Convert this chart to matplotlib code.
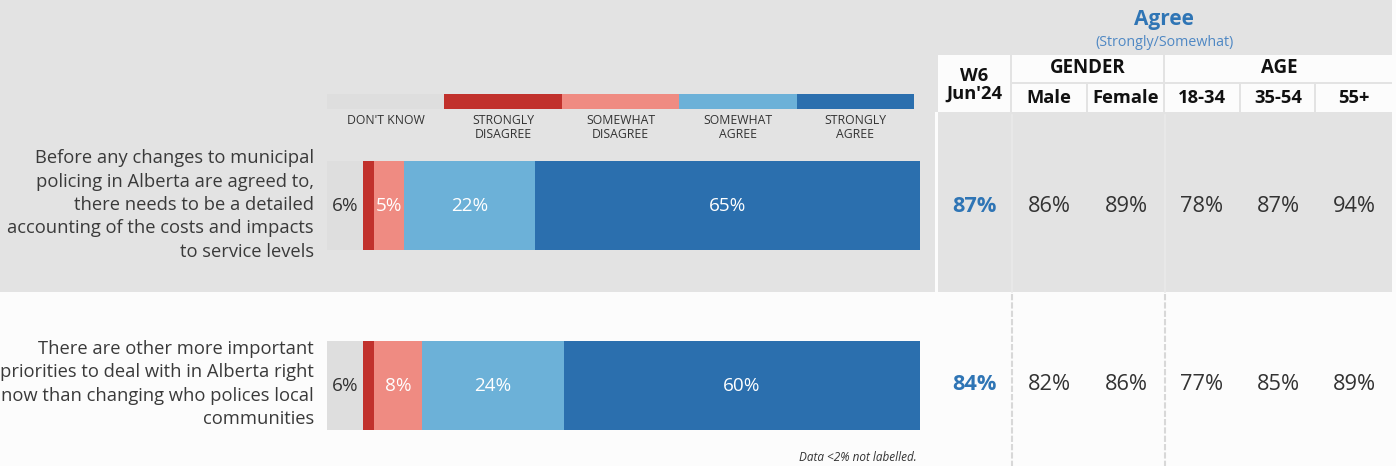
import matplotlib.pyplot as plt
from matplotlib.patches import Rectangle
import numpy as np

plt.rcParams["font.family"] = ["Open Sans", "DejaVu Sans"]

# data
statements = [
    "Before any changes to municipal\npolicing in Alberta are agreed to,\nthere needs to be a detailed\naccounting of the costs and impacts\nto service levels",
    "There are other more important\npriorities to deal with in Alberta right\nnow than changing who polices local\ncommunities",
]
categories = ["DON'T KNOW", "STRONGLY\nDISAGREE", "SOMEWHAT\nDISAGREE", "SOMEWHAT\nAGREE", "STRONGLY\nAGREE"]
dont_know = [6, 6]
strongly_disagree = [2, 2]
somewhat_disagree = [5, 8]
somewhat_agree = [22, 24]
strongly_agree = [65, 60]

table_cols = ["W6\nJun'24", "Male", "Female", "18-34", "35-54", "55+"]
agree_total = ["87%", "84%"]
agree_male = ["86%", "82%"]
agree_female = ["89%", "86%"]
agree_18_34 = ["78%", "77%"]
agree_35_54 = ["87%", "85%"]
agree_55 = ["94%", "89%"]

colors = ["#dedede", "#c1312c", "#ef8b82", "#6cb1d8", "#2b6fae"]
label_colors = ["#333333", "white", "white", "white", "white"]
blue = "#2f75b5"
W, H = 1396, 466


def fx(x):
    return x / W


def fy(y):
    return 1 - y / H


def rect(fig, x0, y0, x1, y1, color, z=0):
    fig.add_artist(Rectangle((fx(x0), fy(y1)), fx(x1) - fx(x0), fy(y0) - fy(y1),
                             transform=fig.transFigure, color=color, lw=0, zorder=z))


fig = plt.figure(figsize=(W / 100, H / 100), dpi=100)
fig.patch.set_facecolor("#fcfcfc")

# backgrounds
rect(fig, 0, 0, W, 292, "#e3e3e3", z=-5)
rect(fig, 935, 112, 938, H, "#fcfcfc", z=-4)
rect(fig, 1392, 0, W, H, "#fcfcfc", z=-4)
# header cells
rect(fig, 938, 55, 1010, 112, "#fcfcfc", z=-3)
rect(fig, 1012, 55, 1163, 82, "#fcfcfc", z=-3)
rect(fig, 1165, 55, 1392, 82, "#fcfcfc", z=-3)
sub_edges = [(1012, 1086), (1088, 1163), (1165, 1239), (1241, 1314), (1316, 1392)]
for a, b in sub_edges:
    rect(fig, a, 84, b, 112, "#fcfcfc", z=-3)
# row separators in table
for xs in [1012, 1165]:
    fig.add_artist(plt.Line2D([fx(xs), fx(xs)], [fy(115), fy(292)], transform=fig.transFigure,
                              color="#eaeaea", lw=1.2, zorder=-2))
    fig.add_artist(plt.Line2D([fx(xs), fx(xs)], [fy(294), fy(H)], transform=fig.transFigure,
                              color="#d8d8d8", lw=1.5, ls=(0, (3, 1)), zorder=-2))

# bar axes
ax = fig.add_axes([fx(327), fy(457.5), fx(920) - fx(327), (457.5 - 70.5) / H])
ax.set_xlim(0, 100)
ax.set_ylim(1.4, -0.75)
ax.axis("off")

series = [dont_know, strongly_disagree, somewhat_disagree, somewhat_agree, strongly_agree]
y = np.arange(len(statements))
left = np.zeros(len(statements))
for vals, c, lc in zip(series, colors, label_colors):
    vals = np.array(vals, dtype=float)
    ax.barh(y, vals, left=left, height=89 / 180, color=c, lw=0)
    for yi, v, l in zip(y, vals, left):
        if v > 2:
            ax.text(l + v / 2, yi, f"{int(v)}%", ha="center", va="center",
                    color=lc, fontsize=13.6)
    left += vals

# legend strip
leg_y = (101.5 - 205.5) / 180
for i, (cat, c) in enumerate(zip(categories, colors)):
    ax.barh(leg_y, 19.8, left=i * 19.8, height=15 / 180, color=c, lw=0)
    ax.text(i * 19.8 + 9.9, (114 - 205.5) / 180, cat, ha="center", va="top",
            fontsize=8.8, color="#333333", linespacing=1.05)

ax.text(99.4, (457 - 205.5) / 180, "Data <2% not labelled.", ha="right", va="center",
        fontsize=8.5, style="italic", color="#333333")

# statements
for yi, s in zip([205, 384], statements):
    fig.text(fx(314), fy(yi), s, ha="right", va="center", fontsize=13.2,
             color="#3a3a3a", linespacing=1.38)

# header
fig.text(fx(1164), fy(19), "Agree", ha="center", va="center", fontsize=15,
         fontweight="bold", color=blue)
fig.text(fx(1164), fy(42), "(Strongly/Somewhat)", ha="center", va="center",
         fontsize=10.3, color="#4f88c4")
fig.text(fx(1088), fy(68), "GENDER", ha="center", va="center", fontsize=13.5,
         fontweight="bold", color="#111111")
fig.text(fx(1279), fy(68), "AGE", ha="center", va="center", fontsize=13.5,
         fontweight="bold", color="#111111")

col_x = [974, 1049, 1126, 1202, 1278, 1354]
fig.text(fx(col_x[0]), fy(85), table_cols[0], ha="center", va="center", fontsize=13.2,
         fontweight="bold", color="#111111", linespacing=1.0)
for cx, name in zip(col_x[1:], table_cols[1:]):
    fig.text(fx(cx), fy(98), name, ha="center", va="center", fontsize=13.2,
             fontweight="bold", color="#111111")

cols = [agree_total, agree_male, agree_female, agree_18_34, agree_35_54, agree_55]
for j, (cx, col) in enumerate(zip(col_x, cols)):
    for yi, v in zip([207, 384], col):
        if j == 0:
            fig.text(fx(cx), fy(yi), v, ha="center", va="center", fontsize=15.7,
                     fontweight="bold", color=blue)
        else:
            fig.text(fx(cx), fy(yi), v, ha="center", va="center", fontsize=15.7,
                     color="#333333")

fig.savefig("out.png", dpi=100, facecolor=fig.get_facecolor())
